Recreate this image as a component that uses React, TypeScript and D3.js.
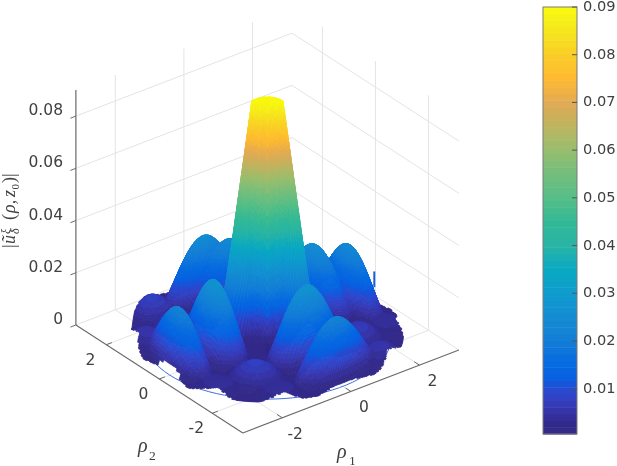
import React from "react";
import * as d3 from "d3";

// ---- values ----
const axisTicks = [-2, 0, 2];
const zTicks = [0, 0.02, 0.04, 0.06, 0.08];
const zTickLabels = ["0", "0.02", "0.04", "0.06", "0.08"];
const barTicks = [0.01, 0.02, 0.03, 0.04, 0.05, 0.06, 0.07, 0.08, 0.09];
const rhoLimit = 3.15;
const zMax = 0.09;
const barMin = 0.0005;

// central peak: radial profile, and how much steeper it reads front-to-back
const peakRadius = [0, 0.2, 0.36, 0.81, 0.96, 1.15, 1.3];
const peakHeight = [0.0915, 0.0915, 0.0905, 0.0373, 0.0209, 0.004, 0.001];
const peakDepthRadius = [0, 0.5, 1.2];
const peakDepthFactor = [3, 3, 1];

// side lobes
const lobeRho1 = [-1.42, 0.1, 1.6, 0.3, -2.4, 0.15, 2.34, -0.15, -1.5, 1.5, -1.5, 1.5, -2.4, -1.45, 2.4, 1.45, -2.4, -1.55, 2.4, 1.45];
const lobeRho2 = [0.15, -1.32, 0.3, 1.85, 0.2, -2.32, -0.05, 2.23, -1.5, -1.5, 1.5, 1.5, -1.25, -2.3, -1.35, -2.35, 1.45, 2.35, 1.4, 2.4];
const lobeHeight = [0.028, 0.028, 0.0255, 0.024, 0.022, 0.022, 0.024, 0.025, 0.008, 0.007, 0.007, 0.007, 0.0045, 0.0045, 0.0045, 0.0055, 0.0055, 0.008, 0.0055, 0.0055];
const lobeAlong = [0.68, 0.68, 0.68, 0.68, 0.55, 0.55, 0.55, 0.55, 0.85, 0.85, 0.85, 0.85, 0.8, 0.8, 0.8, 0.8, 0.8, 0.8, 0.8, 0.8];
const lobeAcross = [1.3, 1.3, 1.3, 1.3, 1.4, 1.4, 1.4, 1.4, 0.95, 0.95, 0.95, 0.95, 0.9, 0.9, 0.9, 0.9, 0.9, 0.9, 0.9, 0.9];

// outline of the surface over one quarter turn: radius against angle (degrees)
const rimAngle = [0, 7.5, 15, 22.5, 30, 37.5, 45, 52.5, 60, 67.5, 75, 82.5, 90];
const rimRadius = [2.82, 2.88, 3.06, 3.08, 2.96, 3.12, 3.16, 3.12, 2.96, 3.08, 3.06, 2.88, 2.82];

const circleRadius = 2.85;
const stubRho = [2.9, -0.28];
const stubZ = [0.0065, 0.0125];

// colour bar samples
const cmapValue = [0.0005, 0.003, 0.005, 0.008, 0.01, 0.012, 0.015, 0.02, 0.025, 0.03, 0.035, 0.04, 0.045, 0.05, 0.055, 0.06, 0.065, 0.07, 0.075, 0.08, 0.085, 0.09];
const cmapColor = ["#352a87", "#322a8c", "#3732a5", "#3241c3", "#284bd2", "#0a5fe1", "#0569e1", "#147dd7", "#148cd2", "#0f9bcd", "#0aaac3", "#28b4a5", "#32b996", "#55be87", "#73be7d", "#96be6e", "#beb45f", "#e1aa55", "#feb932", "#facd28", "#f5e61e", "#f9fb0e"];

// ---- scales ----
const x1 = d3.scaleLinear().domain([-1, 1]).range([-34.3, 34.3]);
const x2 = d3.scaleLinear().domain([-1, 1]).range([26.5, -26.5]);
const y1 = d3.scaleLinear().domain([-1, 1]).range([13.17, -13.17]);
const y2 = d3.scaleLinear().domain([-1, 1]).range([17.14, -17.14]);
const yz = d3.scaleLinear().domain([0, zMax]).range([0, -235]);
const cx = 267.4;
const cy = 337.5;
const project = (r1: number, r2: number, z: number): [number, number] => [
  cx + x1(r1) + x2(r2),
  cy + y1(r1) + y2(r2) + yz(z),
];

const peak = d3.scaleLinear().domain(peakRadius).range(peakHeight).clamp(true);
const peakDepth = d3.scaleLinear().domain(peakDepthRadius).range(peakDepthFactor).clamp(true);
const rim = d3.scaleLinear().domain(rimAngle).range(rimRadius);
const cmap = d3.scaleLinear<string>().domain(cmapValue).range(cmapColor).interpolate(d3.interpolateRgb).clamp(true);
const levels = d3.range(64).map((i) => cmap(barMin + ((i + 0.5) / 64) * (zMax - barMin)));
const band = d3.scaleQuantize<string>().domain([barMin, zMax]).range(levels);

function height(r1: number, r2: number): number {
  const u = (34.3 * r1 - 26.5 * r2) / 43.34;
  const w = (26.5 * r1 + 34.3 * r2) / 43.34;
  const k = peakDepth(Math.hypot(u, w));
  let v = Math.max(0.0012, peak(Math.hypot(u, w * k)));
  lobeRho1.forEach((c1, i) => {
    const c2 = lobeRho2[i];
    const len = Math.hypot(c1, c2);
    const ur = c1 / len;
    const us = c2 / len;
    const da = ((r1 - c1) * ur + (r2 - c2) * us) / lobeAlong[i];
    const db = (-(r1 - c1) * us + (r2 - c2) * ur) / lobeAcross[i];
    const d = Math.hypot(da, db);
    if (d < 1) {
      v = Math.max(v, lobeHeight[i] * Math.pow(Math.cos((Math.PI / 2) * d), 1.5));
    }
  });
  return v;
}

// the outline is tested on a square raster, which leaves the stepped edge of the picture
const cell = 0.04;
function inside(r1: number, r2: number): boolean {
  const q1 = (Math.floor(r1 / cell) + 0.5) * cell;
  const q2 = (Math.floor(r2 / cell) + 0.5) * cell;
  const ang = (((Math.atan2(q2, q1) * 180) / Math.PI) % 90 + 90) % 90;
  return Math.hypot(q1, q2) <= rim(ang);
}

const line = d3.line();

function buildFacets() {
  const rings = [...d3.range(0, 1.2, 0.012), ...d3.range(1.2, 3.2, 0.02)];
  const raw: { depth: number; d: string; fill: string }[] = [];
  const rad = Math.PI / 180;
  for (let i = 0; i < rings.length - 1; i++) {
    const ra = rings[i], rb = rings[i + 1];
    const dt = ra < 1.2 ? 3 : 1;
    for (let t = 0; t < 360; t += dt) {
      const ca = Math.cos(t * rad), sa = Math.sin(t * rad);
      const cb = Math.cos((t + dt) * rad), sb = Math.sin((t + dt) * rad);
      const rm = (ra + rb) / 2, tm = (t + dt / 2) * rad;
      const m1 = rm * Math.cos(tm), m2 = rm * Math.sin(tm);
      if (!inside(m1, m2)) continue;
      const corners: [number, number][] = [[ra * ca, ra * sa], [rb * ca, rb * sa], [rb * cb, rb * sb], [ra * cb, ra * sb]];
      const z = corners.map((c) => height(c[0], c[1]));
      const pts = corners.map((c, k) => project(c[0], c[1], z[k]));
      raw.push({ depth: 26.5 * m1 + 34.3 * m2, d: line(pts)! + "Z", fill: band(d3.mean(z)!) });
    }
  }
  raw.sort((a, b) => b.depth - a.depth);
  const merged: { d: string; fill: string }[] = [];
  for (const f of raw) {
    const last = merged[merged.length - 1];
    if (last && last.fill === f.fill) last.d += f.d;
    else merged.push({ d: f.d, fill: f.fill });
  }
  return merged;
}

const GRID = "#e4e4e4";
const AXIS = "#6a6a6a";
const TEXT = "#404040";
const SANS = "'DejaVu Sans', sans-serif";
const SERIF = "'Liberation Serif', serif";

const L = rhoLimit;

export default function App() {
  const facets = React.useMemo(buildFacets, []);
  const seg = (a: [number, number], b: [number, number], stroke: string, w = 1, key?: string) => (
    <line key={key} x1={a[0]} y1={a[1]} x2={b[0]} y2={b[1]} stroke={stroke} strokeWidth={w} />
  );
  const circle = d3.range(0, 361, 4).map((t) =>
    project(circleRadius * Math.cos((t * Math.PI) / 180), circleRadius * Math.sin((t * Math.PI) / 180), 0)
  );
  const barY = d3.scaleLinear().domain([barMin, zMax]).range([434, 7]);

  return (
    <svg width={617} height={466} style={{ position: "absolute", left: 0, top: 0, filter: "blur(0.55px)" }}>
      <rect width={617} height={466} fill="#fff" />
      {/* grid */}
      {zTicks.map((z) => (
        <g key={z}>
          {seg(project(-L, L, z), project(L, L, z), GRID)}
          {seg(project(L, L, z), project(L, -L, z), GRID)}
        </g>
      ))}
      {axisTicks.map((t) => (
        <g key={t}>
          {seg(project(t, L, 0), project(t, L, zMax), GRID)}
          {seg(project(L, t, 0), project(L, t, zMax), GRID)}
          {seg(project(t, -L, 0), project(t, L, 0), GRID)}
          {seg(project(-L, t, 0), project(L, t, 0), GRID)}
        </g>
      ))}
      {/* axes */}
      {seg(project(-L, L, 0), project(-L, L, zMax), AXIS, 1.2)}
      {seg(project(-L, L, 0), project(-L, -L, 0), AXIS, 1.1)}
      {seg(project(-L, -L, 0), project(L, -L, 0), AXIS, 1.1)}
      {zTicks.map((z, i) => {
        const p = project(-L, L, z);
        return (
          <g key={z}>
            {seg(p, project(-L - 0.16, L, z), AXIS, 1)}
            <text x={63} y={p[1] - 5.5} textAnchor="end" dominantBaseline="middle" fontFamily={SANS} fontSize={15.5} fill={TEXT}>
              {zTickLabels[i]}
            </text>
          </g>
        );
      })}
      {axisTicks.map((t) => {
        const p1 = project(t, -L, 0);
        const p2 = project(-L, t, 0);
        return (
          <g key={t}>
            {seg(p1, project(t, -L + 0.2, 0), AXIS, 1)}
            {seg(p2, project(-L + 0.16, t, 0), AXIS, 1)}
            <text x={p1[0] + 13} y={p1[1] + 21} textAnchor="middle" fontFamily={SANS} fontSize={15.5} fill={TEXT}>
              {t < 0 ? "-" + Math.abs(t) : t}
            </text>
            <text x={p2[0] - 16} y={p2[1] + 20} textAnchor="middle" fontFamily={SANS} fontSize={15.5} fill={TEXT}>
              {t < 0 ? "-" + Math.abs(t) : t}
            </text>
          </g>
        );
      })}
      {/* reference circle under the surface */}
      <path d={line(circle)!} fill="none" stroke="#3f6fe0" strokeWidth={1} />
      {/* surface */}
      <g>
        {facets.map((f, i) => (
          <path key={i} d={f.d} fill={f.fill} stroke={f.fill} strokeWidth={0.7} strokeLinejoin="round" />
        ))}
      </g>
      {seg(project(stubRho[0], stubRho[1], stubZ[0]), project(stubRho[0], stubRho[1], stubZ[1]), "#1a5fdc", 2)}
      {/* axis labels */}
      <text x={138} y={452} fontFamily={SERIF} fontStyle="italic" fontSize={20} fill={TEXT}>ρ</text>
      <text x={149} y={460} fontFamily={SERIF} fontSize={13.5} fill={TEXT}>2</text>
      <text x={337} y={458} fontFamily={SERIF} fontStyle="italic" fontSize={20} fill={TEXT}>ρ</text>
      <text x={349} y={464.5} fontFamily={SERIF} fontSize={13.5} fill={TEXT}>1</text>
      <g transform="translate(15,248) rotate(-90)" fontFamily={SERIF} fill={TEXT}>
        <text x={0} y={0} fontSize={18}>|</text>
        <text x={4} y={0} fontSize={18} fontStyle="italic">ũ</text>
        <text x={14} y={-5.5} fontSize={12} fontStyle="italic">ξ</text>
        <text x={14} y={4} fontSize={12} fontStyle="italic">δ</text>
        <text x={28} y={0} fontSize={18}>(</text>
        <text x={35} y={0} fontSize={18} fontStyle="italic">ρ,</text>
        <text x={51} y={0} fontSize={18} fontStyle="italic">z</text>
        <text x={58.5} y={3.5} fontSize={11}>0</text>
        <text x={65} y={0} fontSize={18}>)|</text>
      </g>
      {/* colour bar */}
      {levels.map((c, i) => {
        const lo = barMin + (i / 64) * (zMax - barMin);
        const hi = barMin + ((i + 1) / 64) * (zMax - barMin);
        return <rect key={i} x={543} y={barY(hi)} width={34} height={barY(lo) - barY(hi) + 0.5} fill={c} />;
      })}
      <rect x={543} y={7} width={34} height={427} fill="none" stroke="#7a7a7a" strokeWidth={1} />
      {barTicks.map((t) => (
        <g key={t}>
          <line x1={577} x2={572} y1={barY(t)} y2={barY(t)} stroke="#555" strokeWidth={1} />
          <text x={583} y={barY(t)} dominantBaseline="middle" fontFamily={SANS} fontSize={14.6} fill={TEXT}>
            {t.toFixed(2)}
          </text>
        </g>
      ))}
    </svg>
  );
}
